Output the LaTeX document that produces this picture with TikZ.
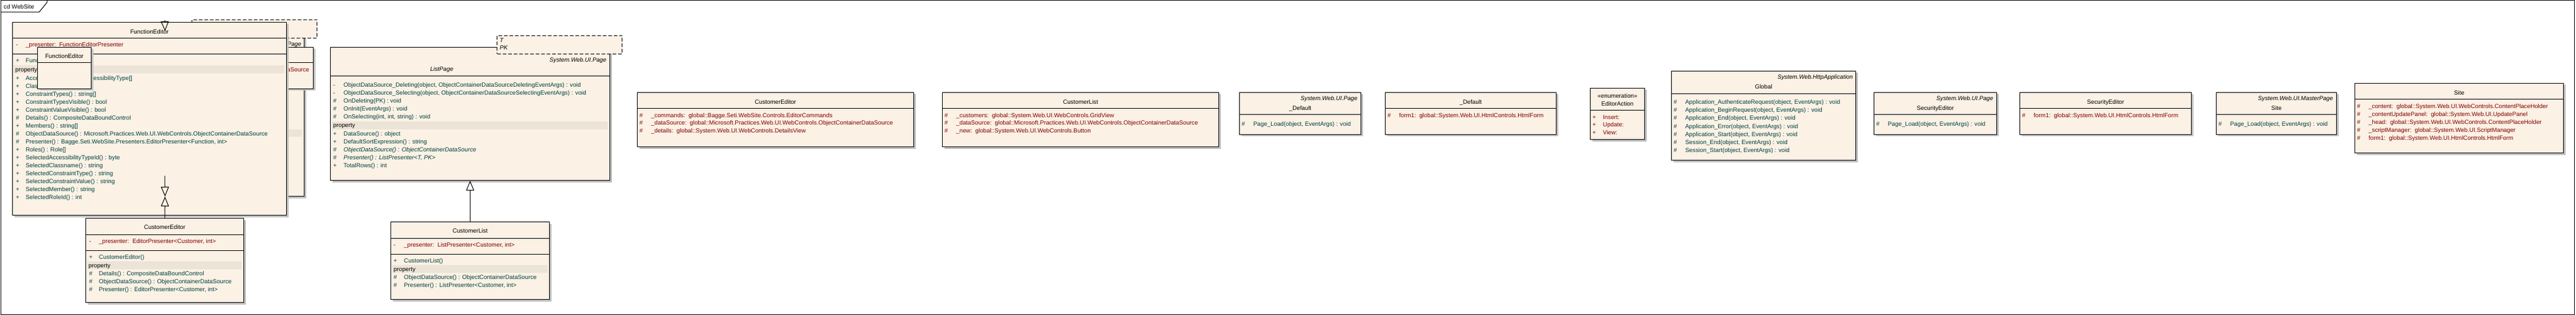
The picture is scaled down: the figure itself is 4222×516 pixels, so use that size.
\documentclass[tikz,border=0pt]{standalone}
\usepackage{fontspec}
\setmainfont{Liberation Sans}
\usetikzlibrary{arrows.meta,shadows}

\definecolor{classfill}{RGB}{251,241,228}
\definecolor{bandfill}{RGB}{236,228,215}
\definecolor{shadowgray}{RGB}{192,192,192}
\definecolor{attrred}{RGB}{128,0,0}
\definecolor{opgreen}{RGB}{0,64,64}

\begin{document}
\begin{tikzpicture}[
    x=1bp, y=-1bp,
    every node/.style={
        font=\fontsize{9.8}{11}\selectfont,
        inner sep=0pt,
        text height=8bp,
        text depth=1bp,
    },
    classbox/.style={
        draw, fill=classfill, line width=1bp, anchor=north west,
        drop shadow={shadow xshift=3bp, shadow yshift=-3bp, fill=shadowgray, opacity=1},
    },
    parambox/.style={
        draw, fill=classfill, line width=1bp, anchor=north west,
        dash pattern=on 6bp off 3bp,
    },
    compline/.style={line width=1bp},
    propband/.style={fill=bandfill},
    stereo/.style={anchor=east, font=\fontsize{9.8}{11}\selectfont\itshape},
    attr/.style={anchor=west, text=attrred},
    oper/.style={anchor=west, text=opgreen},
    absoper/.style={anchor=west, text=opgreen, font=\fontsize{9.8}{11}\selectfont\itshape},
    gen/.style={draw, line width=1bp, -{Triangle[open, length=16bp, width=13bp]}},
]
    \useasboundingbox (0,0) rectangle (4222,516);

    % frame
    \draw[line width=1bp] (1,1) rectangle (4219,515);
    \draw[line width=1bp] (1,20) -- (64,20) -- (77,4) -- (77,1);
    \node[anchor=west] (frame-name) at (6,11) {cd WebSite};

    % hidden page class and its template
    \node[classbox, minimum width=456bp, minimum height=270bp] (edpage) at (42,51) {};
    \node[stereo] (edpage-st) at (494,72) {System.Web.UI.Page};
    \fill[propband] (45,212) rectangle (495,224);
    \node[parambox, minimum width=205bp, minimum height=30bp] (edpage-par) at (314,32) {};

    \node[classbox, minimum width=213bp, minimum height=68bp] (lst) at (300,77) {};
    \draw[compline] (lst.west |- 0,103) -- (lst.east |- 0,103);
    \node[attr, anchor=east] (lst-a0) at (507,114) {DataSource};

    % FunctionEditor
    \node[classbox, minimum width=449bp, minimum height=316bp] (fe) at (20,36) {};
    \node (fe-t) at (fe.north |- 0,52) {FunctionEditor};
    \draw[compline] (fe.west |- 0,63) -- (fe.east |- 0,63);
    \node[attr] (fe-a0) at (26,73) {\makebox[16bp][l]{-}\_presenter:\ \ FunctionEditorPresenter};
    \draw[compline] (fe.west |- 0,89) -- (fe.east |- 0,89);
    \node[oper] (fe-c) at (26,99) {\makebox[16bp][l]{+}FunctionEditor()};
    \fill[propband] (23,107) rectangle (466,120);
    \node[anchor=west] (fe-p) at (25,114) {property};
    \foreach \vis/\txt [count=\i from 0] in {
        +/{AccessibilityTypes() : AccessibilityType[]},
        +/{Classnames() : string[]},
        +/{ConstraintTypes() : string[]},
        +/{ConstraintTypesVisible() : bool},
        +/{ConstraintValueVisible() : bool},
        \#/{Details() : CompositeDataBoundControl},
        +/{Members() : string[]},
        \#/{ObjectDataSource() : Microsoft.Practices.Web.UI.WebControls.ObjectContainerDataSource},
        \#/{Presenter() : Bagge.Seti.WebSite.Presenters.EditorPresenter<Function, int>},
        +/{Roles() : Role[]},
        +/{SelectedAccessibilityTypeId() : byte},
        +/{SelectedClassname() : string},
        +/{SelectedConstraintType() : string},
        +/{SelectedConstraintValue() : string},
        +/{SelectedMember() : string},
        +/{SelectedRoleId() : int}} {
        \node[oper] (fe-op\i) at (26,128+13*\i) {\makebox[16bp][l]{\vis}\txt};
    }

    \node[classbox, minimum width=88bp, minimum height=68bp] (fesmall) at (61,77) {};
    \node (fesmall-t) at (fesmall.north |- 0,92) {FunctionEditor};
    \draw[compline] (fesmall.west |- 0,103) -- (fesmall.east |- 0,103);

    % CustomerEditor
    \node[classbox, minimum width=259bp, minimum height=138bp] (ce) at (140,357) {};
    \node (ce-t) at (ce.north |- 0,372) {CustomerEditor};
    \draw[compline] (ce.west |- 0,384) -- (ce.east |- 0,384);
    \node[attr] (ce-a0) at (146,395) {\makebox[16bp][l]{-}\_presenter:\ \ EditorPresenter<Customer, int>};
    \draw[compline] (ce.west |- 0,410) -- (ce.east |- 0,410);
    \node[oper] (ce-c) at (146,421) {\makebox[16bp][l]{+}CustomerEditor()};
    \fill[propband] (143,428) rectangle (396,441);
    \node[anchor=west] (ce-p) at (145,435) {property};
    \foreach \txt [count=\i from 0] in {
        {Details() : CompositeDataBoundControl},
        {ObjectDataSource() : ObjectContainerDataSource},
        {Presenter() : EditorPresenter<Customer, int>}} {
        \node[oper] (ce-op\i) at (146,448+13*\i) {\makebox[16bp][l]{\#}\txt};
    }

    \coordinate (fe-top) at (270,33);
    \coordinate (fe-gen) at (270,288);
    \draw[gen] (fe-top) -- (edpage.north);
    \draw[gen] (fe-gen) -- (edpage.south);
    \draw[gen] (ce.north) -- (edpage.south);

    % ListPage
    \node[classbox, minimum width=458bp, minimum height=218bp] (lp) at (541,77) {};
    \node[parambox, minimum width=205bp, minimum height=30bp] (lp-par) at (814,58) {};
    \node[anchor=west, font=\fontsize{9.8}{11}\selectfont\itshape] (lp-par-t) at (819,66) {T};
    \node[anchor=west, font=\fontsize{9.8}{11}\selectfont\itshape] (lp-par-pk) at (819,78) {PK};
    \node[stereo] (lp-st) at (994,98) {System.Web.UI.Page};
    \node[font=\fontsize{9.8}{11}\selectfont\itshape] (lp-t) at (724,113) {ListPage};
    \draw[compline] (lp.west |- 0,125) -- (lp.east |- 0,125);
    \foreach \vis/\txt [count=\i from 0] in {
        -/{ObjectDataSource\_Deleting(object, ObjectContainerDataSourceDeletingEventArgs) : void},
        -/{ObjectDataSource\_Selecting(object, ObjectContainerDataSourceSelectingEventArgs) : void},
        \#/{OnDeleting(PK) : void},
        \#/{OnInit(EventArgs) : void},
        \#/{OnSelecting(int, int, string) : void}} {
        \node[oper] (lp-op\i) at (546,139+13*\i) {\makebox[17bp][l]{\vis}\txt};
    }
    \fill[propband] (544,199) rectangle (996,212);
    \node[anchor=west] (lp-p) at (546,205) {property};
    \node[oper] (lp-pr0) at (546,219) {\makebox[17bp][l]{+}DataSource() : object};
    \node[oper] (lp-pr1) at (546,232) {\makebox[17bp][l]{+}DefaultSortExpression() : string};
    \node[absoper] (lp-pr2) at (546,245) {\makebox[17bp][l]{\#}ObjectDataSource() : ObjectContainerDataSource};
    \node[absoper] (lp-pr3) at (546,258) {\makebox[17bp][l]{\#}Presenter() : ListPresenter<T, PK>};
    \node[oper] (lp-pr4) at (546,271) {\makebox[17bp][l]{+}TotalRows() : int};

    % CustomerList
    \node[classbox, minimum width=260bp, minimum height=127bp] (cl) at (640,363) {};
    \node (cl-t) at (cl.north |- 0,378) {CustomerList};
    \draw[compline] (cl.west |- 0,390) -- (cl.east |- 0,390);
    \node[attr] (cl-a0) at (645,401) {\makebox[17bp][l]{-}\_presenter:\ \ ListPresenter<Customer, int>};
    \draw[compline] (cl.west |- 0,416) -- (cl.east |- 0,416);
    \node[oper] (cl-c) at (645,427) {\makebox[17bp][l]{+}CustomerList()};
    \fill[propband] (643,434) rectangle (897,447);
    \node[anchor=west] (cl-p) at (645,441) {property};
    \node[oper] (cl-op0) at (645,454) {\makebox[17bp][l]{\#}ObjectDataSource() : ObjectContainerDataSource};
    \node[oper] (cl-op1) at (645,467) {\makebox[17bp][l]{\#}Presenter() : ListPresenter<Customer, int>};
    \draw[gen] (cl.north) -- (lp.south);

    % code-behind classes
    \node[classbox, minimum width=453bp, minimum height=89bp] (ced) at (1044,151) {};
    \node (ced-t) at (ced.north |- 0,167) {CustomerEditor};
    \draw[compline] (ced.west |- 0,178) -- (ced.east |- 0,178);
    \foreach \txt [count=\i from 0] in {
        {\_commands:\ \ global::Bagge.Seti.WebSite.Controls.EditorCommands},
        {\_dataSource:\ \ global::Microsoft.Practices.Web.UI.WebControls.ObjectContainerDataSource},
        {\_details:\ \ global::System.Web.UI.WebControls.DetailsView}} {
        \node[attr] (ced-a\i) at (1048,189+12.5*\i) {\makebox[19bp][l]{\#}\txt};
    }

    \node[classbox, minimum width=453bp, minimum height=89bp] (clst) at (1544,151) {};
    \node (clst-t) at (clst.north |- 0,167) {CustomerList};
    \draw[compline] (clst.west |- 0,178) -- (clst.east |- 0,178);
    \foreach \txt [count=\i from 0] in {
        {\_customers:\ \ global::System.Web.UI.WebControls.GridView},
        {\_dataSource:\ \ global::Microsoft.Practices.Web.UI.WebControls.ObjectContainerDataSource},
        {\_new:\ \ global::System.Web.UI.WebControls.Button}} {
        \node[attr] (clst-a\i) at (1548,189+12.5*\i) {\makebox[19bp][l]{\#}\txt};
    }

    \node[classbox, minimum width=199bp, minimum height=69bp] (dpg) at (2031,151) {};
    \node[stereo] (dpg-st) at (2225,161) {System.Web.UI.Page};
    \node (dpg-t) at (dpg.north |- 0,177) {\_Default};
    \draw[compline] (dpg.west |- 0,188) -- (dpg.east |- 0,188);
    \node[oper] (dpg-op0) at (2035,203) {\makebox[19bp][l]{\#}Page\_Load(object, EventArgs) : void};

    \node[classbox, minimum width=280bp, minimum height=69bp] (dft) at (2270,151) {};
    \node (dft-t) at (dft.north |- 0,167) {\_Default};
    \draw[compline] (dft.west |- 0,178) -- (dft.east |- 0,178);
    \node[attr] (dft-a0) at (2274,189) {\makebox[19bp][l]{\#}form1:\ \ global::System.Web.UI.HtmlControls.HtmlForm};

    \node[classbox, minimum width=89bp, minimum height=84bp] (eda) at (2606,144) {};
    \node (eda-st) at (eda.north |- 0,157) {«enumeration»};
    \node (eda-t) at (eda.north |- 0,170) {EditorAction};
    \draw[compline] (eda.west |- 0,181) -- (eda.east |- 0,181);
    \foreach \txt [count=\i from 0] in {Insert:, Update:, View:} {
        \node[attr] (eda-a\i) at (2610,192+12.5*\i) {\makebox[17bp][l]{+}\txt};
    }

    \node[classbox, minimum width=302bp, minimum height=146bp] (glob) at (2739,116) {};
    \node[stereo] (glob-st) at (3037,126) {System.Web.HttpApplication};
    \node (glob-t) at (glob.north |- 0,142) {Global};
    \draw[compline] (glob.west |- 0,154) -- (glob.east |- 0,154);
    \foreach \txt [count=\i from 0] in {
        Application\_AuthenticateRequest, Application\_BeginRequest, Application\_End,
        Application\_Error, Application\_Start, Session\_End, Session\_Start} {
        \node[oper] (glob-op\i) at (2743,167+13.2*\i) {\makebox[19bp][l]{\#}\txt(object, EventArgs) : void};
    }

    \node[classbox, minimum width=201bp, minimum height=69bp] (sepg) at (3071,151) {};
    \node[stereo] (sepg-st) at (3267,161) {System.Web.UI.Page};
    \node (sepg-t) at (sepg.north |- 0,177) {SecurityEditor};
    \draw[compline] (sepg.west |- 0,188) -- (sepg.east |- 0,188);
    \node[oper] (sepg-op0) at (3075,203) {\makebox[19bp][l]{\#}Page\_Load(object, EventArgs) : void};

    \node[classbox, minimum width=281bp, minimum height=69bp] (sed) at (3310,151) {};
    \node (sed-t) at (sed.north |- 0,167) {SecurityEditor};
    \draw[compline] (sed.west |- 0,178) -- (sed.east |- 0,178);
    \node[attr] (sed-a0) at (3314,189) {\makebox[19bp][l]{\#}form1:\ \ global::System.Web.UI.HtmlControls.HtmlForm};

    \node[classbox, minimum width=197bp, minimum height=69bp] (spg) at (3632,151) {};
    \node[stereo] (spg-st) at (3824,161) {System.Web.UI.MasterPage};
    \node (spg-t) at (spg.north |- 0,177) {Site};
    \draw[compline] (spg.west |- 0,188) -- (spg.east |- 0,188);
    \node[oper] (spg-op0) at (3636,203) {\makebox[19bp][l]{\#}Page\_Load(object, EventArgs) : void};

    \node[classbox, minimum width=342bp, minimum height=114bp] (site) at (3859,136) {};
    \node (site-t) at (site.north |- 0,152) {Site};
    \draw[compline] (site.west |- 0,163) -- (site.east |- 0,163);
    \foreach \txt [count=\i from 0] in {
        {\_content:\ \ global::System.Web.UI.WebControls.ContentPlaceHolder},
        {\_contentUpdatePanel:\ \ global::System.Web.UI.UpdatePanel},
        {\_head:\ \ global::System.Web.UI.WebControls.ContentPlaceHolder},
        {\_scriptManager:\ \ global::System.Web.UI.ScriptManager},
        {form1:\ \ global::System.Web.UI.HtmlControls.HtmlForm}} {
        \node[attr] (site-a\i) at (3863,174+13*\i) {\makebox[19bp][l]{\#}\txt};
    }
\end{tikzpicture}
\end{document}
